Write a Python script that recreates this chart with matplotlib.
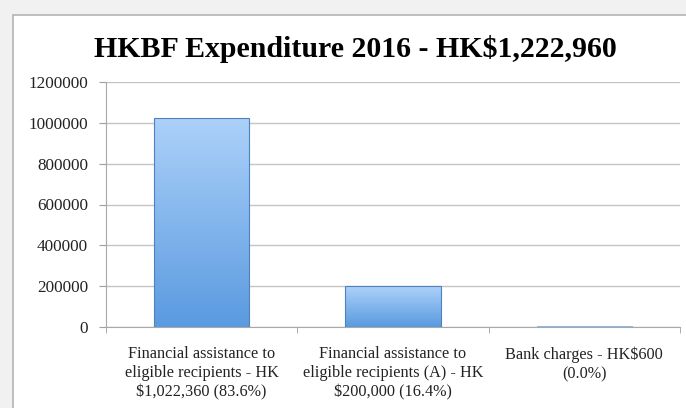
import matplotlib.pyplot as plt
import numpy as np
from matplotlib.colors import LinearSegmentedColormap
from matplotlib.patches import Rectangle

title = "HKBF Expenditure 2016 - HK$1,222,960"
categories = ["Financial assistance to\neligible recipients - HK\n$1,022,360 (83.6%)",
              "Financial assistance to\neligible recipients (A) - HK\n$200,000 (16.4%)",
              "Bank charges - HK$600\n(0.0%)"]
values = [1022360, 200000, 600]
yticks = [0, 200000, 400000, 600000, 800000, 1000000, 1200000]

serif = "Liberation Serif"

fig = plt.figure(figsize=(6.86, 4.08), dpi=100)
fig.patch.set_facecolor("#f1f1f1")
# white chart frame
fig.patches.append(Rectangle((13/686, -0.1), 1.2, 0.1 + 1 - 15/408, transform=fig.transFigure,
                             facecolor="white", edgecolor="#b4b4b4", lw=1.2, zorder=0))

ax = fig.add_axes([106/686, 1 - 327/408, 574/686, 245/408])
ax.set_zorder(1)
ax.set_facecolor("white")

x = np.arange(len(values))
w = 0.5
cmap = LinearSegmentedColormap.from_list("bar", ["#5a9ae0", "#acd1f9"])
grad = np.linspace(0, 1, 256).reshape(-1, 1)
bars = ax.bar(x, values, width=w, color="none", edgecolor="#4f82bd", linewidth=0.8, zorder=3)
for b in bars:
    h = b.get_height()
    if h <= 0:
        continue
    ax.imshow(grad, extent=[b.get_x(), b.get_x() + b.get_width(), 0, h], origin="lower",
              aspect="auto", cmap=cmap, zorder=2)

ax.set_xlim(-0.5, len(values) - 0.5)
ax.set_ylim(0, 1200000)
ax.set_yticks(yticks)
ax.set_yticklabels([str(v) for v in yticks])
ax.yaxis.grid(True, color="#c4c4c4", lw=1)
ax.set_axisbelow(True)

ax.set_xticks(x)
ax.set_xticklabels(categories)
ax.set_xticks(np.arange(len(values) + 1) - 0.5, minor=True)
ax.tick_params(axis="x", which="major", length=0, pad=14)
ax.tick_params(axis="x", which="minor", length=4, color="#a0a0a0", direction="out")
ax.tick_params(axis="y", length=5, color="#a0a0a0", pad=8)

for lab in ax.get_xticklabels():
    lab.set_fontfamily(serif)
    lab.set_fontsize(11.7)
    lab.set_linespacing(1.25)
    lab.set_color("#222222")
for lab in ax.get_yticklabels():
    lab.set_fontfamily(serif)
    lab.set_fontsize(12.3)
    lab.set_color("#222222")

for s in ["top", "right"]:
    ax.spines[s].set_visible(False)
ax.spines["left"].set_color("#a8a8a8")
ax.spines["bottom"].set_color("#a8a8a8")

fig.text(355/686, 1 - 49/408, title, ha="center", va="center", fontsize=21.5,
         fontweight="bold", fontfamily=serif, color="black")

fig.savefig("out.png", dpi=100)
